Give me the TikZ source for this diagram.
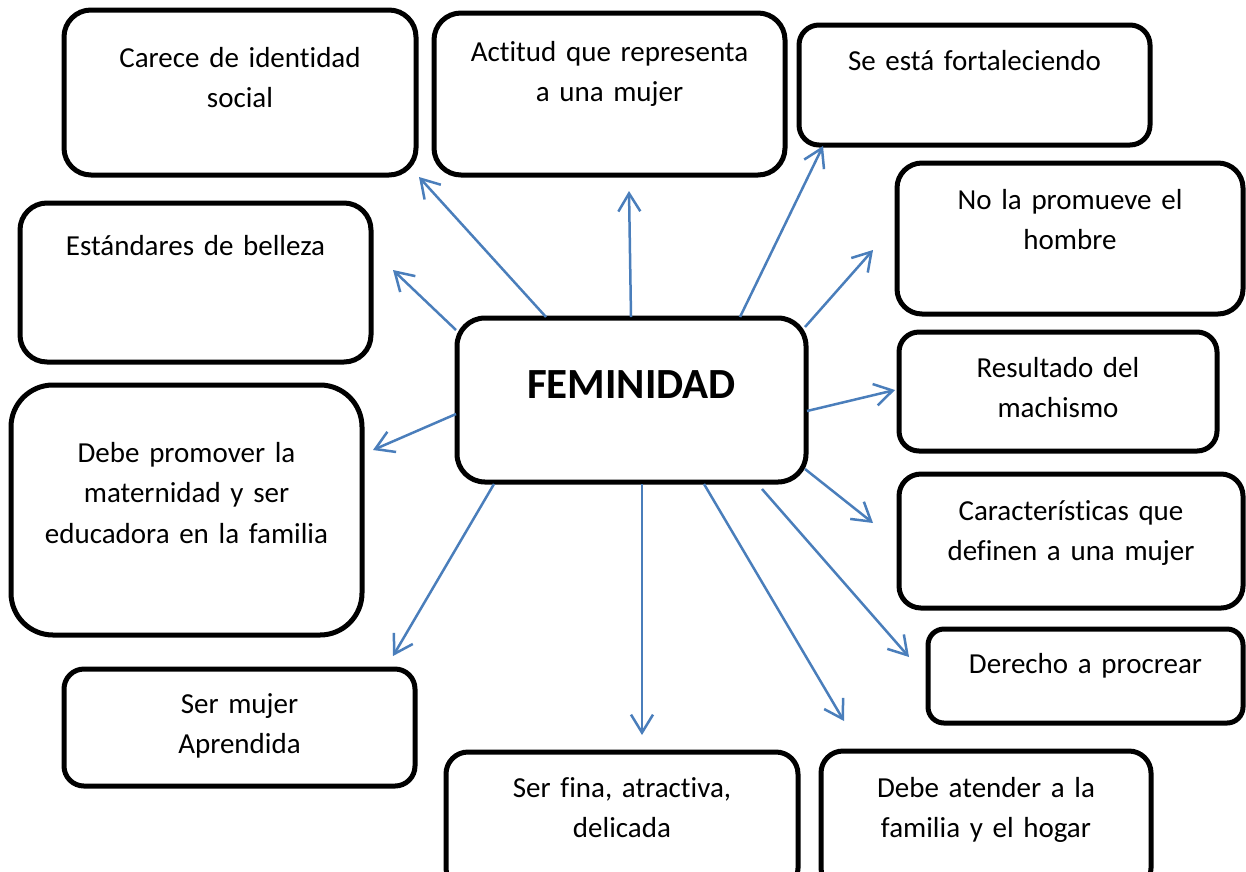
\documentclass[tikz,border=0pt]{standalone}
\usepackage{fontspec}
\setmainfont[Ligatures={NoCommon}]{Carlito}
\usetikzlibrary{arrows.meta}
\definecolor{arrowblue}{RGB}{74,126,187}
\tikzset{
  box/.style={draw=black, line width=5pt, fill=white, inner xsep=0pt, inner ysep=0pt,
    align=center, anchor=base, font=\fontsize{29}{40.5}\selectfont},
  conn/.style={draw=arrowblue, line width=2.5pt,
    -{Straight Barb[length=18pt,width=22pt,line width=2.5pt]}},
}
\begin{document}
\begin{tikzpicture}[x=1pt,y=-1pt]
\useasboundingbox (0,0) rectangle (1246,871);
\clip (0,0) rectangle (1246,871);
% boxes
\node[box, rounded corners=27pt, text width=352pt, text height=57pt, text depth=108pt] (carece) at (240,67) {Carece de identidad\\social};
\node[box, rounded corners=27pt, text width=351pt, text height=48pt, text depth=114pt] (actitud) at (609.5,61) {Actitud que representa\\a una mujer};
\node[box, rounded corners=20pt, text width=351pt, text height=45pt, text depth=75pt] (seesta) at (974.5,70) {Se está fortaleciendo};
\node[box, rounded corners=25pt, text width=346pt, text height=46pt, text depth=105pt] (nolaprom) at (1070,209) {No la promueve el\\hombre};
\node[box, rounded corners=20pt, text width=318pt, text height=45pt, text depth=74pt] (resultado) at (1058,377) {Resultado del\\machismo};
\node[box, rounded corners=22pt, text width=344pt, text height=46pt, text depth=88pt] (caract) at (1071,520) {Características que\\definen a una mujer};
\node[box, rounded corners=16pt, text width=315pt, text height=44pt, text depth=50pt] (derecho) at (1085.5,673) {Derecho a procrear};
\node[box, rounded corners=22pt, text width=330pt, text height=46pt, text depth=93pt] (debeaten) at (986,797) {Debe atender a la\\familia y el hogar};
\node[box, rounded corners=22pt, text width=352pt, text height=45pt, text depth=93pt] (serfina) at (622,797) {Ser fina, atractiva,\\delicada};
\node[box, rounded corners=20pt, text width=351pt, text height=44pt, text depth=73pt] (sermujer) at (239.5,713) {Ser mujer\\Aprendida};
\node[box, rounded corners=42pt, text width=351pt, text height=77pt, text depth=173pt] (debeprom) at (186.5,462) {Debe promover la\\maternidad y ser\\educadora en la familia};
\node[box, rounded corners=27pt, text width=351pt, text height=52pt, text depth=107pt] (estand) at (195.5,255) {Estándares de belleza};
\node[box, rounded corners=28pt, text width=349pt, text height=80pt, text depth=84pt, font=\fontsize{43}{50}\selectfont\bfseries] (fem) at (631.5,398) {FEMINIDAD};
% arrow ends
\coordinate (s1) at (546,317); \coordinate (e1) at (419,177);
\coordinate (s2) at (631,317); \coordinate (e2) at (629,191);
\coordinate (s3) at (740,317); \coordinate (e3) at (823,146);
\coordinate (s4) at (805,327); \coordinate (e4) at (873,250);
\coordinate (s5) at (807,411); \coordinate (e5) at (895,390);
\coordinate (s6) at (805,469); \coordinate (e6) at (873,523);
\coordinate (s7) at (762,489); \coordinate (e7) at (909,657);
\coordinate (s8) at (704,484); \coordinate (e8) at (844,721);
\coordinate (s9) at (642,484); \coordinate (e9) at (642,735);
\coordinate (s10) at (494,484); \coordinate (e10) at (393,656);
\coordinate (s11) at (456,414); \coordinate (e11) at (373,450);
\coordinate (s12) at (456,330); \coordinate (e12) at (393,270);
\foreach \i in {1,...,12} { \draw[conn] (s\i) -- (e\i); }
\end{tikzpicture}
\end{document}
